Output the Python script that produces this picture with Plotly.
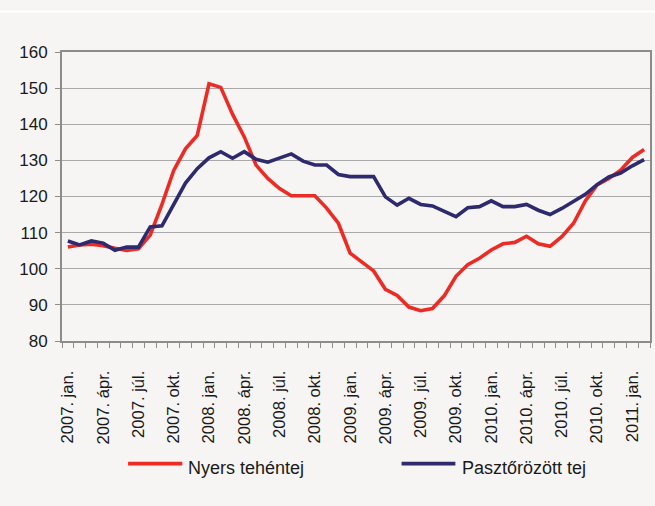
import plotly.graph_objects as go

# --- data (monthly index, 2007. jan. .. 2011. febr.) ---
months = [f"{2007 + i // 12}. " + ["jan.", "febr.", "márc.", "ápr.", "máj.", "jún.",
                                    "júl.", "aug.", "szept.", "okt.", "nov.", "dec."][i % 12]
          for i in range(50)]

nyers_tehentej = [106.0, 106.6, 106.8, 106.4, 105.7, 105.1, 105.5, 109.3, 117.8, 127.2,
                  133.2, 136.9, 151.2, 150.2, 142.8, 136.5, 128.7, 125.0, 122.2, 120.2,
                  120.2, 120.2, 116.8, 112.6, 104.3, 101.8, 99.4, 94.3, 92.6, 89.4,
                  88.4, 89.0, 92.5, 97.9, 101.1, 102.9, 105.2, 106.9, 107.3, 109.0,
                  106.9, 106.2, 108.9, 112.6, 118.8, 123.2, 125.0, 127.3, 130.8, 133.0]

pasztorozott_tej = [107.7, 106.6, 107.7, 107.1, 105.1, 106.0, 106.0, 111.6, 111.9, 117.6,
                    123.7, 127.7, 130.7, 132.4, 130.6, 132.4, 130.3, 129.5, 130.7, 131.8,
                    129.8, 128.7, 128.7, 126.1, 125.5, 125.5, 125.5, 119.9, 117.6, 119.5,
                    117.8, 117.4, 115.8, 114.4, 116.9, 117.2, 118.8, 117.2, 117.2, 117.8,
                    116.2, 115.0, 116.7, 118.8, 120.6, 123.3, 125.4, 126.5, 128.5, 130.2]

tick_labels = ["2007. jan.", "2007. ápr.", "2007. júl.", "2007. okt.",
               "2008. jan.", "2008. ápr.", "2008. júl.", "2008. okt.",
               "2009. jan.", "2009. ápr.", "2009. júl.", "2009. okt.",
               "2010. jan.", "2010. ápr.", "2010. júl.", "2010. okt.",
               "2011. jan."]

series_names = ["Nyers tehéntej", "Pasztőrözött tej"]
RED = "#ec2b25"
BLUE = "#2d2a6e"
BG = "#f6f5f3"
AXIS = "#8c8c8c"
GRID = "#a9a9a9"
FONT = "Liberation Sans, Arial, sans-serif"

x = list(range(len(months)))
tick_idx = [months.index(t) for t in tick_labels]

fig = go.Figure()
fig.add_trace(go.Scatter(x=x, y=nyers_tehentej, mode="lines", name=series_names[0],
                         line=dict(color=RED, width=3.6), customdata=months,
                         hovertemplate="%{customdata}: %{y}<extra></extra>"))
fig.add_trace(go.Scatter(x=x, y=pasztorozott_tej, mode="lines", name=series_names[1],
                         line=dict(color=BLUE, width=3.6), customdata=months,
                         hovertemplate="%{customdata}: %{y}<extra></extra>"))

fig.update_layout(
    width=655, height=506,
    margin=dict(l=62, r=3, t=52, b=165),
    paper_bgcolor=BG, plot_bgcolor=BG,
    showlegend=False,
    xaxis=dict(range=[-0.5, len(months) - 0.5], showgrid=False, zeroline=False,
               showline=True, linecolor=AXIS, linewidth=2, mirror=True,
               tickmode="array", tickvals=tick_idx, ticktext=tick_labels,
               ticks="", tickangle=-90, ticklabelstandoff=21,
               tickfont=dict(family=FONT, size=16.6, color="#1a1a1a"),
               minor=dict(tickmode="array",
                          tickvals=[i - 0.5 for i in range(len(months) + 1)],
                          ticks="outside", ticklen=5, tickwidth=1, tickcolor=AXIS,
                          showgrid=False)),
    yaxis=dict(range=[80, 160], dtick=10, tick0=80, showgrid=True,
               gridcolor=GRID, gridwidth=1.3, zeroline=False,
               showline=True, linecolor=AXIS, linewidth=2, mirror=True,
               ticks="outside", ticklen=5, tickwidth=1, tickcolor=AXIS,
               ticklabelstandoff=4,
               tickfont=dict(family=FONT, size=17, color="#1a1a1a")),
)

# white separator stripe near the top of the image
fig.add_shape(type="line", xref="paper", yref="paper", x0=-0.2, x1=1.1,
              y0=1.140, y1=1.140, line=dict(color="white", width=2))

# legend drawn below the plot
leg_y_line = -0.4246
leg_y_text = -0.438
for name, color, x0, x1, xt in [(series_names[0], RED, 0.1124, 0.2046, 0.2114),
                                (series_names[1], BLUE, 0.5775, 0.669, 0.6775)]:
    fig.add_shape(type="line", xref="paper", yref="paper", x0=x0, x1=x1,
                  y0=leg_y_line, y1=leg_y_line, line=dict(color=color, width=3.7))
    fig.add_annotation(xref="paper", yref="paper", x=xt, y=leg_y_text, text=name,
                       showarrow=False, xanchor="left", yanchor="middle",
                       font=dict(family=FONT, size=18, color="#1a1a1a"))

fig.write_html("out.html", config={"displayModeBar": False},
               post_script="document.body.style.margin='0';document.body.style.background='%s';" % BG)
